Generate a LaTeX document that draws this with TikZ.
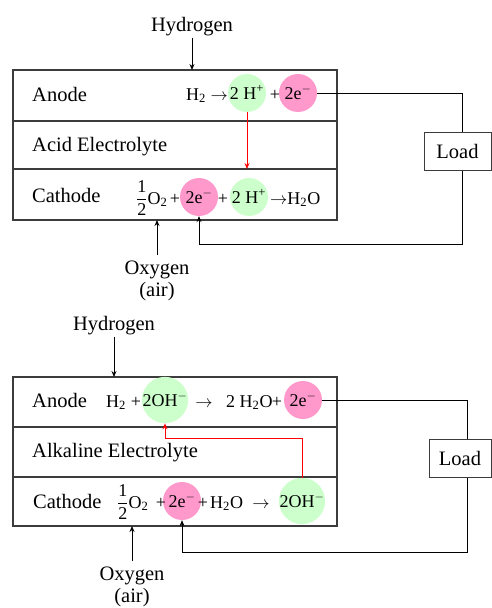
\documentclass[tikz,border=0pt]{standalone}
\usepackage{amsmath}
\usepackage{fontspec}
\setmainfont{Liberation Serif}
\usetikzlibrary{positioning,arrows.meta}
\definecolor{proton}{HTML}{CCFFCC}
\definecolor{electron}{HTML}{FF99CC}
\definecolor{frame}{HTML}{3C3C3C}
\newcommand{\half}{$\dfrac{\text{1}}{\text{2}}$}
\newcommand{\elec}{2e\textsuperscript{$-$}}

\begin{document}
\begin{tikzpicture}[x=1pt,y=-1pt,
  lab/.style={font=\fontsize{20.5}{24}\selectfont,inner sep=0pt},
  chem/.style={font=\fontsize{18}{21}\selectfont,inner sep=0pt,anchor=base},
  ion/.style={circle,minimum size=38pt,inner sep=0pt,font=\fontsize{18}{21}\selectfont,text height=12pt,text depth=0pt},
  cell/.style={draw=frame,line width=1.2pt},
  wire/.style={line width=0.9pt},
  feed/.style={line width=0.9pt,-{Stealth[length=6pt,width=5pt]}},
  hop/.style={red,line width=0.9pt,-{Stealth[length=6pt,width=5pt]}}]
\useasboundingbox (0,0) rectangle (492,608);

% acid cell
\draw[cell] (13,70) rectangle (337,220);
\draw[cell] (13,121) -- (337,121) (13,169) -- (337,169);
\node[lab,anchor=base west] (anA) at (32,101) {Anode};
\node[lab,anchor=base west] (elA) at (32,151) {Acid Electrolyte};
\node[lab,anchor=base west] (caA) at (32,202) {Cathode};
\node[lab,anchor=base] (hydA) at (192,31) {Hydrogen};
\node[lab,anchor=base] (oxA) at (157,274) {Oxygen};
\node[lab,anchor=base] (airA) at (157,296) {(air)};
\draw[feed] ([yshift=-2pt]hydA.south) -- (hydA.south |- 0,70);
\draw[feed] ([yshift=5pt]oxA.north) -- (oxA.north |- 0,220);
% anode reaction
\node[ion,fill=proton] (gA) at (247,93) {2 H\textsuperscript{+}};
\node[ion,fill=electron] (eA) at (298,93) {\elec};
\node[chem,anchor=base west] (h2A) at (186,100) {H\textsubscript{2} $\rightarrow$};
\node[chem] (pA) at (275,100) {+};
% cathode reaction
\node[ion,fill=electron] (eC) at (199,197) {\elec};
\node[ion,fill=proton] (gC) at (249,197) {2 H\textsuperscript{+}};
\node[chem,anchor=base west] (o2C) at (136,204) {\half O\textsubscript{2}};
\node[chem] (pC1) at (175,204) {+};
\node[chem] (pC2) at (223,204) {+};
\node[chem,anchor=base west] (wC) at (270,204) {$\rightarrow$H\textsubscript{2}O};
% load circuit
\node[lab,draw=frame,line width=1pt,minimum width=67pt,minimum height=38pt] (loadA) at (457.5,151) {Load};
\coordinate (retA) at (462,244);
\draw[wire] (eA.east) -| ([xshift=4.5pt]loadA.north);
\draw[feed] ([xshift=4.5pt]loadA.south) -- (retA) -| (eC.south);
\draw[hop] (gA.south) -- (gA.south |- 0,169);

% alkaline cell
\draw[cell] (13,377) rectangle (337,526);
\draw[cell] (13,427) -- (337,427) (13,477) -- (337,477);
\node[lab,anchor=base west] (anB) at (32,407) {Anode};
\node[lab,anchor=base west] (elB) at (32,457) {Alkaline Electrolyte};
\node[lab,anchor=base west] (caB) at (33,508) {Cathode};
\node[lab,anchor=base] (hydB) at (114,330) {Hydrogen};
\node[lab,anchor=base] (oxB) at (132,580) {Oxygen};
\node[lab,anchor=base] (airB) at (132,602) {(air)};
\draw[feed] ([yshift=-2pt]hydB.south) -- (hydB.south |- 0,377);
\draw[feed] ([yshift=5pt]oxB.north) -- (oxB.north |- 0,526);
% anode reaction
\node[ion,fill=proton] (gB) at (165,400) {2OH\textsuperscript{$-$}};
\node[ion,fill=electron] (eB) at (303,400) {\elec};
\node[chem,anchor=base west] (h2B) at (106,407) {H\textsubscript{2}};
\node[chem] (pB1) at (136,407) {+};
\node[chem] (toB) at (204,407) {$\rightarrow$};
\node[chem,anchor=base west] (wB) at (226,407) {2 H\textsubscript{2}O};
\node[chem] (pB2) at (277,407) {+};
% cathode reaction
\node[ion,fill=electron] (eD) at (182,501) {\elec};
\node[ion,fill=proton] (gD) at (302,501) {2OH\textsuperscript{$-$}};
\node[chem,anchor=base west] (o2D) at (117,508) {\half O\textsubscript{2}};
\node[chem] (pD1) at (161,508) {+};
\node[chem] (pD2) at (203,508) {+};
\node[chem,anchor=base west] (wD) at (210,508) {H\textsubscript{2}O};
\node[chem] (toD) at (261,508) {$\rightarrow$};
% load circuit
\node[lab,draw=frame,line width=1pt,minimum width=62pt,minimum height=38pt] (loadB) at (460,458) {Load};
\coordinate (retB) at (467,552);
\draw[wire] (eB.east) -| ([xshift=7pt]loadB.north);
\draw[feed] ([xshift=7pt]loadB.south) -- (retB) -| (eD.south);
\draw[hop] (gD.north) |- (gB.south |- 0,438) -- (gB.south);
\end{tikzpicture}
\end{document}
